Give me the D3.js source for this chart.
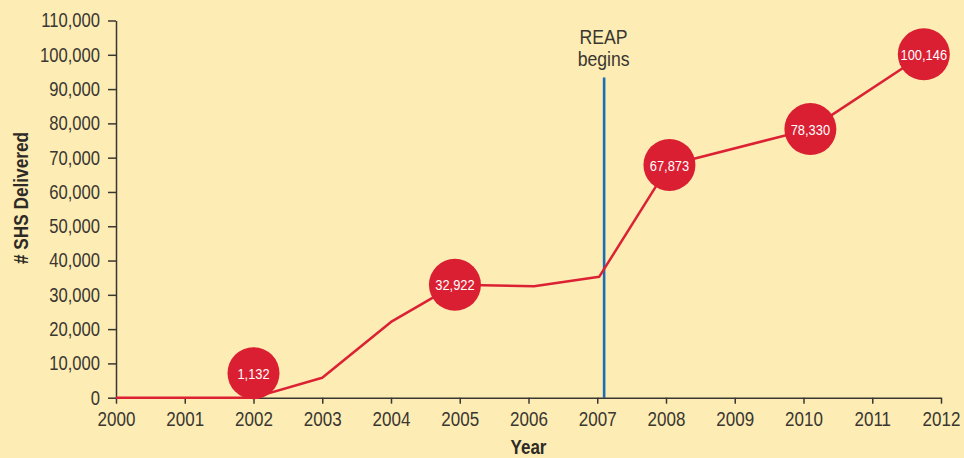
<!DOCTYPE html>
<html>
<head>
<meta charset="utf-8">
<script src="https://cdn.jsdelivr.net/npm/d3@7"></script>
<style>
  body { margin: 0; background: #fdedb4; }
  svg { display: block; }
  text { font-family: "Liberation Sans", Arial, sans-serif; }
  .axis text { font-size: 20px; fill: #3a3631; }
  .axis path, .axis line { stroke: #3a3631; stroke-width: 1.5px; }
</style>
</head>
<body>
<div id="chart"></div>
<script>
// DATA
const years = [2000, 2001, 2002, 2003, 2004, 2004.93, 2006.08, 2007.03, 2008.05, 2010.1, 2011.75];
const delivered = [0, 0, 0, 5800, 22100, 32922, 32500, 35300, 67873, 78330, 100146];

const bubbleYears = [2002, 2004.93, 2008.05, 2010.1, 2011.75];
const bubbleValues = [1132, 32922, 67873, 78330, 100146];

const xTicks = [2000, 2001, 2002, 2003, 2004, 2005, 2006, 2007, 2008, 2009, 2010, 2011, 2012];
const yTicks = [0, 10000, 20000, 30000, 40000, 50000, 60000, 70000, 80000, 90000, 100000, 110000];

const reapYear = 2007.1;
const reapLabel = ["REAP", "begins"];

let width = 964,
  height = 458,
  margin = { top: 20.5, bottom: 60.3, left: 116, right: 23 };

// the original uses a condensed face; squeeze regular text horizontally
function condense(sel, k) {
  sel.each(function () {
    const w = this.getComputedTextLength();
    d3.select(this)
      .attr("textLength", w * k)
      .attr("lengthAdjust", "spacingAndGlyphs");
  });
}

// SCALES
const xScale = d3.scaleLinear()
  .domain([2000, 2012])
  .range([margin.left, width - margin.right]);

const yScale = d3.scaleLinear()
  .domain([0, 110000])
  .range([height - margin.bottom, margin.top]);

// AXES
const xAxis = d3.axisBottom(xScale)
  .tickValues(xTicks)
  .tickFormat(d3.format("d"))
  .tickSize(6)
  .tickSizeOuter(0)
  .tickPadding(8);

const yAxis = d3.axisLeft(yScale)
  .tickValues(yTicks)
  .tickFormat(d3.format(","))
  .tickSize(8)
  .tickSizeOuter(0)
  .tickPadding(8);

const svg = d3.select("#chart")
  .append("svg")
  .attr("width", width)
  .attr("height", height);

svg.append("rect")
  .attr("width", width)
  .attr("height", height)
  .attr("fill", "#fdedb4");

// REAP marker
svg.append("line")
  .attr("stroke", "#1b6db5")
  .attr("stroke-width", 2.6)
  .attr("x1", xScale(reapYear))
  .attr("x2", xScale(reapYear))
  .attr("y1", 77.5)
  .attr("y2", yScale(0));

svg.append("g")
  .selectAll("text")
  .data(reapLabel)
  .join("text")
  .attr("x", xScale(reapYear) - 0.5)
  .attr("y", (d, i) => 44 + i * 22)
  .attr("text-anchor", "middle")
  .attr("font-size", 20.5)
  .attr("fill", "#3a3631")
  .text((d) => d)
  .call(condense, 0.86);

// add the xAxis
svg.append("g")
  .attr("class", "axis x-axis")
  .attr("transform", `translate(0,${yScale(0)})`)
  .call(xAxis)
  .selectAll("text")
  .call(condense, 0.85);

// add the yAxis
svg.append("g")
  .attr("class", "axis y-axis")
  .attr("transform", `translate(${margin.left},0)`)
  .call(yAxis)
  .selectAll("text")
  .call(condense, 0.83);

// axis titles
svg.append("text")
  .attr("x", (xScale.range()[0] + xScale.range()[1]) / 2)
  .attr("y", 454)
  .attr("text-anchor", "middle")
  .attr("font-weight", "bold")
  .attr("font-size", 20)
  .attr("fill", "#2e2a26")
  .text("Year")
  .call(condense, 0.85);

svg.append("text")
  .attr("transform", "translate(28,198) rotate(-90)")
  .attr("text-anchor", "middle")
  .attr("font-weight", "bold")
  .attr("font-size", 20.5)
  .attr("fill", "#2e2a26")
  .text("# SHS Delivered")
  .call(condense, 0.84);

// the line
const line = d3.line()
  .x((d, i) => xScale(years[i]))
  .y((d) => yScale(d));

svg.append("path")
  .datum(delivered)
  .attr("fill", "none")
  .attr("stroke", "#db2133")
  .attr("stroke-width", 2.5)
  .attr("stroke-linejoin", "round")
  .attr("d", line);

// bubbles (kept above the x axis)
const r = 26;
const bubbleY = (v) => Math.min(yScale(v), yScale(0) - r + 1.5);

const bubbles = svg.append("g")
  .selectAll("g")
  .data(bubbleValues)
  .join("g")
  .attr("transform", (d, i) => `translate(${xScale(bubbleYears[i])},${bubbleY(d)})`);

bubbles.append("circle")
  .attr("r", r)
  .attr("fill", "#da1f33");

bubbles.append("text")
  .attr("text-anchor", "middle")
  .attr("dy", "0.36em")
  .attr("font-size", 15.5)
  .attr("fill", "#fff")
  .text((d) => d3.format(",")(d))
  .call(condense, 0.83);
</script>
</body>
</html>
